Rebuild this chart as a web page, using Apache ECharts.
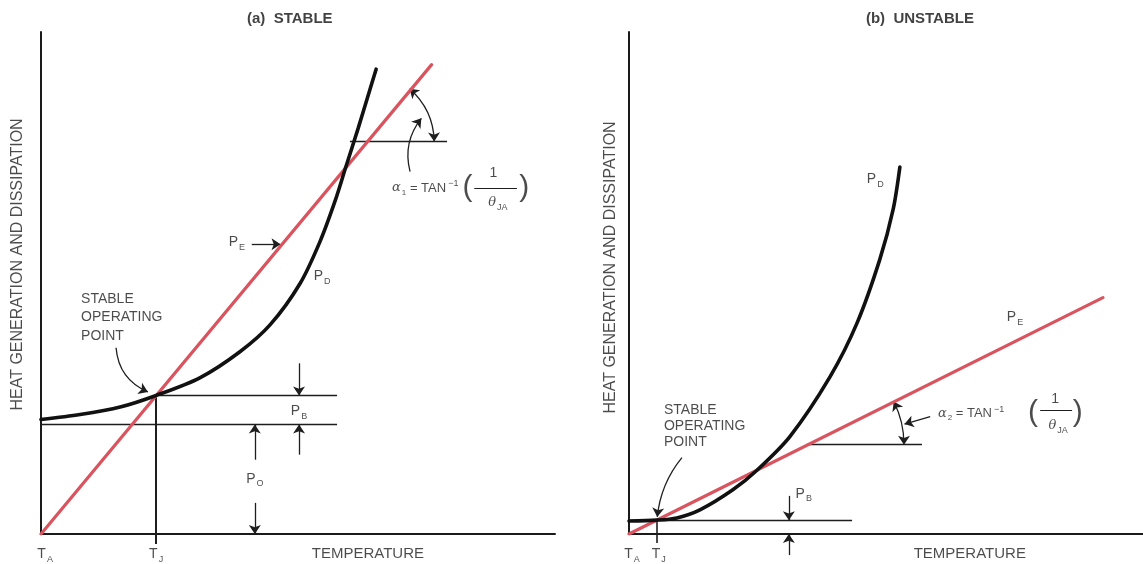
<!DOCTYPE html>
<html>
<head>
<meta charset="utf-8">
<title>Thermal stability: heat generation and dissipation</title>
<script src="https://cdn.jsdelivr.net/npm/echarts@6/dist/echarts.min.js"></script>
<style>
  html, body { margin: 0; padding: 0; background: #ffffff; }
  #chart { width: 1143px; height: 564px; }
</style>
</head>
<body>
<div id="chart"></div>
<script>
// ---- curve data (temperature / power in relative units, 0..100) ----
// (a) stable case
const stableTemp      = [0, 7.6, 15.4, 22.4, 30.9, 38.7, 44.6, 50.4, 54.3, 57.2, 59.3, 61.7, 63.6, 65.2];
const stableDissip    = [22.8, 23.8, 25.3, 27.6, 31.1, 36.3, 41.7, 49.9, 58.3, 66.3, 73.1, 80.8, 87.2, 92.6];
const stableRemoveT   = [0, 76.0];
const stableRemoveP   = [0, 93.5];
const stableTJ = 22.4;   // junction temperature at the operating point
const stablePO = 21.8;   // quiescent power level
const stablePJ = 27.6;   // power at the operating point

// (b) unstable case
const unstableTemp    = [0, 5.4, 9.3, 13.8, 20.2, 24.9, 31.3, 39.1, 44.4, 48.8, 51.4, 52.7];
const unstableDissip  = [2.6, 2.76, 3.2, 4.8, 8.8, 12.7, 19.4, 31.3, 42.1, 54.7, 64.7, 73.1];
const unstableRemoveT = [0, 92.2];
const unstableRemoveP = [0, 47.1];
const unstableTJ = 5.4;
const unstablePJ = 2.76;

const zip = (xs, ys) => xs.map((x, i) => [x, ys[i]]);

const FONT = "'Liberation Sans', Arial, Helvetica, sans-serif";
const INK = '#1e1e1e';
const RED = '#d9545f';

const rich = {
  m:  { fontFamily: FONT, fontSize: 14, color: INK },
  n:  { fontFamily: FONT, fontSize: 13, color: INK },
  s:  { fontFamily: FONT, fontSize: 9,  color: INK, padding: [10, 0, 0, 1] },
  q:  { fontFamily: FONT, fontSize: 8,  color: INK, padding: [9, 0, 0, 1] },
  p:  { fontFamily: FONT, fontSize: 9,  color: INK, padding: [0, 0, 9, 2] },
  g:  { fontFamily: 'DejaVu Serif, serif', fontStyle: 'italic', fontSize: 13, color: INK },
  t:  { fontFamily: 'DejaVu Serif, serif', fontStyle: 'italic', fontSize: 13, color: INK },
  b:  { fontFamily: FONT, fontSize: 15, fontWeight: 'bold', color: '#111111' },
  ax: { fontFamily: FONT, fontSize: 15, color: INK },
  ay: { fontFamily: FONT, fontSize: 16, color: INK },
  par:{ fontFamily: FONT, fontSize: 30, color: INK }
};

// text item placed in data coordinates
function txt(x, y, text, align, extra) {
  return {
    value: [x, y],
    label: Object.assign({ formatter: text, align: align || 'center' }, extra || {})
  };
}

// guide segment between two data points, optionally curved
function seg(a, b, curveness, width) {
  return { coords: [a, b], lineStyle: { curveness: curveness || 0, width: width || 1.3 } };
}

const alphaA = '{g|α}{q|1}{n| = TAN}{p|−1}';
const alphaB = '{g|α}{q|2}{n| = TAN}{p|−1}';

// annotations, panel (a)
const textA = [
  txt(48.4, 102.6, '{b|(a)  STABLE}'),
  txt(-4.6, 53.7, '{ay|HEAT GENERATION AND DISSIPATION}', 'center', { rotate: 90 }),
  txt(63.6, -4.0, '{ax|TEMPERATURE}'),
  txt(0.8, -4.0, '{m|T}{s|A}'),
  txt(22.4, -4.0, '{m|T}{s|J}'),
  txt(7.8, 46.7, '{m|STABLE}', 'left'),
  txt(7.8, 43.1, '{m|OPERATING}', 'left'),
  txt(7.8, 39.5, '{m|POINT}', 'left'),
  txt(38.1, 58.1, '{m|P}{s|E}'),
  txt(54.7, 51.3, '{m|P}{s|D}'),
  txt(50.2, 24.4, '{m|P}{s|B}'),
  txt(41.6, 11.0, '{m|P}{s|O}'),
  txt(68.3, 68.9, alphaA, 'left'),
  txt(83.0, 69.0, '{par|(}'),
  txt(88.0, 71.8, '{m|1}'),
  txt(88.9, 66.0, '{t|θ}{s|JA}'),
  txt(94.0, 69.0, '{par|)}')
];
const plainA = [
  seg([stableTJ, stablePJ], [57.6, stablePJ]),
  seg([0, stablePO], [57.6, stablePO]),
  seg([stableTJ, stablePJ], [stableTJ, -2], 0, 2),
  seg([60.1, 78.2], [79.0, 78.2]),
  seg([84.3, 68.9], [92.6, 68.9], 0, 1.1)
];
const arrowA = [
  seg([50.2, 34.0], [50.2, stablePJ]),
  seg([50.2, 15.8], [50.2, stablePO]),
  seg([41.6, 14.8], [41.6, stablePO]),
  seg([41.6, 6.2], [41.6, 0]),
  seg([41.0, 57.7], [46.6, 57.7]),
  seg([14.6, 37.1], [20.8, 28.3], -0.3),
  seg([71.8, 72.2], [74.0, 82.8], 0.25)
];
const bothA = [
  seg([71.7, 88.7], [76.5, 78.2], 0.22)
];

// annotations, panel (b)
const textB = [
  txt(56.6, 102.6, '{b|(b)  UNSTABLE}'),
  txt(-3.6, 53.1, '{ay|HEAT GENERATION AND DISSIPATION}', 'center', { rotate: 90 }),
  txt(66.3, -4.0, '{ax|TEMPERATURE}'),
  txt(0.6, -4.0, '{m|T}{s|A}'),
  txt(5.8, -4.0, '{m|T}{s|J}'),
  txt(6.8, 24.6, '{m|STABLE}', 'left'),
  txt(6.8, 21.4, '{m|OPERATING}', 'left'),
  txt(6.8, 18.2, '{m|POINT}', 'left'),
  txt(47.9, 70.7, '{m|P}{s|D}'),
  txt(75.1, 43.1, '{m|P}{s|E}'),
  txt(34.0, 8.0, '{m|P}{s|B}'),
  txt(60.1, 24.0, alphaB, 'left'),
  txt(78.6, 24.2, '{par|(}'),
  txt(82.9, 26.9, '{m|1}'),
  txt(83.5, 21.6, '{t|θ}{s|JA}'),
  txt(87.3, 24.2, '{par|)}')
];
const plainB = [
  seg([0, unstablePJ], [43.4, unstablePJ]),
  seg([unstableTJ, unstablePJ], [unstableTJ, -1.8], 0, 1.6),
  seg([34.6, 17.8], [57.0, 17.8]),
  seg([80.0, 24.6], [86.2, 24.6], 0, 1.1)
];
const arrowB = [
  seg([31.1, 7.6], [31.1, unstablePJ]),
  seg([31.1, -4.2], [31.1, 0]),
  seg([58.6, 23.4], [53.6, 21.9]),
  seg([10.3, 15.2], [5.5, 3.4], -0.15)
];
const bothB = [
  seg([51.5, 26.4], [53.5, 17.8], 0.12)
];

function axes(grid) {
  return {
    gridIndex: grid, type: 'value', min: 0, max: 100,
    axisLine: { show: true, lineStyle: { color: '#1a1a1a', width: 2 } },
    axisTick: { show: false }, axisLabel: { show: false }, splitLine: { show: false }
  };
}

function textSeries(grid, items) {
  return {
    type: 'scatter', xAxisIndex: grid, yAxisIndex: grid, clip: false,
    symbolSize: 0, silent: true, animation: false,
    label: { show: true, position: 'inside', verticalAlign: 'middle', rich: rich },
    data: items
  };
}

function curveSeries(grid, data, color, width, smooth) {
  return {
    type: 'line', xAxisIndex: grid, yAxisIndex: grid, data: data,
    showSymbol: false, symbol: 'none', smooth: smooth,
    silent: true, animation: false,
    lineStyle: { color: color, width: width, cap: 'round' }
  };
}

function guideSeries(grid, segs, symbols) {
  return {
    type: 'lines', coordinateSystem: 'cartesian2d', xAxisIndex: grid, yAxisIndex: grid,
    clip: false, silent: true, animation: false, polyline: false,
    symbol: symbols, symbolSize: 9,
    lineStyle: { color: INK, width: 1.3, opacity: 1 },
    itemStyle: { color: INK },
    data: segs
  };
}

const option = {
  backgroundColor: '#ffffff',
  animation: false,
  grid: [
    { left: 41,  top: 32, width: 514, height: 502 },
    { left: 629, top: 32, width: 514, height: 502 }
  ],
  xAxis: [axes(0), axes(1)],
  yAxis: [axes(0), axes(1)],
  series: [
    guideSeries(0, plainA, ['none', 'none']),
    guideSeries(0, arrowA, ['none', 'arrow']),
    guideSeries(0, bothA, ['arrow', 'arrow']),
    curveSeries(0, zip(stableRemoveT, stableRemoveP), RED, 3.2, false),
    curveSeries(0, zip(stableTemp, stableDissip), '#111111', 3.6, 0.3),
    textSeries(0, textA),
    guideSeries(1, plainB, ['none', 'none']),
    guideSeries(1, arrowB, ['none', 'arrow']),
    guideSeries(1, bothB, ['arrow', 'arrow']),
    curveSeries(1, zip(unstableRemoveT, unstableRemoveP), RED, 3.2, false),
    curveSeries(1, zip(unstableTemp, unstableDissip), '#111111', 3.6, 0.3),
    textSeries(1, textB)
  ]
};

const chart = echarts.init(document.getElementById('chart'), null, { renderer: 'canvas' });
chart.setOption(option);
</script>
</body>
</html>
